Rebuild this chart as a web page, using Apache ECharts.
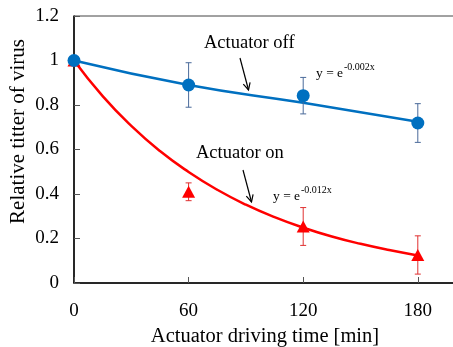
<!DOCTYPE html>
<html><head><meta charset="utf-8">
<script src="https://cdn.jsdelivr.net/npm/echarts@6/dist/echarts.min.js"></script>
<style>html,body{margin:0;padding:0;background:#fff}#c{width:453px;height:347px}</style>
</head><body><div id="c"></div>
<script>
// measured points
const timeX = [0, 60, 120, 180];
const offMean = [1.0, 0.89, 0.842, 0.719];
const offErr  = [0, 0.10, 0.082, 0.087];
const onMean  = [1.0, 0.41, 0.254, 0.126];
const onErr   = [0, 0.04, 0.085, 0.086];
// fitted curves
const offCurveX = [0, 60, 120, 180];
const offCurveY = [1.0, 0.89, 0.81, 0.725];
const onCurveX = [0, 15, 30, 45, 60, 75, 90, 105, 120, 135, 150, 165, 180];
const onCurveY = [1.0, 0.84, 0.706, 0.593, 0.499, 0.419, 0.352, 0.296, 0.249, 0.209, 0.176, 0.148, 0.124];
const yTicks = [0, 0.2, 0.4, 0.6, 0.8, 1, 1.2];
const xTicks = [0, 60, 120, 180];

const BLUE = '#0070C0', RED = '#FF0000';
const FONT = '"Liberation Serif","Times New Roman",serif';

function errRender(color){
  return function(params, api){
    const x = api.value(0), y = api.value(1), e = api.value(2);
    if (!e) return null;
    const t = api.coord([x, y + e]), b = api.coord([x, y - e]);
    const hw = 3, st = {stroke: color, lineWidth: 1};
    return {type: 'group', children: [
      {type: 'line', shape: {x1: t[0], y1: t[1], x2: b[0], y2: b[1]}, style: st},
      {type: 'line', shape: {x1: t[0]-hw, y1: t[1], x2: t[0]+hw, y2: t[1]}, style: st},
      {type: 'line', shape: {x1: b[0]-hw, y1: b[1], x2: b[0]+hw, y2: b[1]}, style: st}
    ]};
  };
}

const chart = echarts.init(document.getElementById('c'), null, {renderer: 'canvas'});
const txt = (x, y, text, size) => ({type: 'text', x: x, y: y, silent: true,
  style: {text: text, font: size + 'px ' + FONT, fill: '#000', textVerticalAlign: 'middle'}});
function arrow(x1, y1, x2, y2){
  const a = Math.atan2(y2 - y1, x2 - x1), L = 7, W = 3.5;
  const bx = x2 - L*Math.cos(a), by = y2 - L*Math.sin(a);
  return [
    {type: 'line', shape: {x1: x1, y1: y1, x2: x2, y2: y2}, style: {stroke: '#000', lineWidth: 1.2}},
    {type: 'polyline', shape: {points: [[bx - W*Math.sin(a), by + W*Math.cos(a)], [x2, y2], [bx + W*Math.sin(a), by - W*Math.cos(a)]]},
     style: {stroke: '#000', lineWidth: 1.2, fill: null}}
  ];
}

chart.setOption({
  animation: false,
  grid: {left: 74, top: 16, bottom: 64, right: -3, show: true, borderColor: '#444', borderWidth: 1,
    containLabel: false, outerBoundsMode: 'none'},
  xAxis: {
    type: 'value', min: 0, max: 200, interval: 60,
    name: 'Actuator driving time [min]', nameLocation: 'middle', nameGap: 41,
    nameTextStyle: {fontFamily: FONT, fontSize: 20.5, color: '#000'},
    axisLine: {lineStyle: {color: '#000', width: 1.5}},
    axisTick: {inside: true, length: 6, lineStyle: {color: '#555'}},
    axisLabel: {fontFamily: FONT, fontSize: 19, color: '#000', margin: 19, showMaxLabel: false,
      formatter: v => xTicks.includes(v) ? String(v) : ''},
    splitLine: {show: false}
  },
  yAxis: {
    type: 'value', min: 0, max: 1.2, interval: 0.2,
    axisLine: {show: true, lineStyle: {color: '#000', width: 1.5}},
    axisTick: {show: true, inside: true, length: 6, lineStyle: {color: '#555'}},
    axisLabel: {fontFamily: FONT, fontSize: 19, color: '#000', margin: 15,
      formatter: v => { const m = yTicks.find(t => Math.abs(t - v) < 1e-9); return m === undefined ? '' : String(m); }},
    splitLine: {show: false}
  },
  series: [
    {type: 'line', data: onCurveX.map((x, i) => [x, onCurveY[i]]), smooth: true, showSymbol: false,
      lineStyle: {color: RED, width: 2.5}, z: 2},
    {type: 'line', data: offCurveX.map((x, i) => [x, offCurveY[i]]), smooth: true, showSymbol: false,
      lineStyle: {color: BLUE, width: 2.5}, z: 2},
    {type: 'custom', renderItem: errRender('#E03030'), data: timeX.map((x, i) => [x, onMean[i], onErr[i]]), z: 3},
    {type: 'custom', renderItem: errRender('#4A6A9A'), data: timeX.map((x, i) => [x, offMean[i], offErr[i]]), z: 3},
    {type: 'scatter', data: timeX.map((x, i) => [x, onMean[i]]), symbol: 'triangle', symbolSize: [13, 12],
      itemStyle: {color: RED, opacity: 1}, z: 4},
    {type: 'scatter', data: timeX.map((x, i) => [x, offMean[i]]), symbol: 'circle', symbolSize: 13,
      itemStyle: {color: BLUE, opacity: 1}, z: 5}
  ],
  graphic: [
    {type: 'text', x: 18, y: 131.5, rotation: Math.PI / 2, silent: true,
      style: {text: 'Relative titter of virus', font: '21px ' + FONT, fill: '#000',
        textAlign: 'center', textVerticalAlign: 'middle'}},
    txt(204, 43, 'Actuator off', 18.5),
    ...arrow(240, 58, 248.5, 90),
    txt(316, 73, 'y = e', 13.5),
    txt(344, 67.5, '-0.002x', 10),
    txt(196, 153.5, 'Actuator on', 18.5),
    ...arrow(243, 170, 251.5, 202),
    txt(273, 196, 'y = e', 13.5),
    txt(301, 190.5, '-0.012x', 10)
  ]
});
</script></body></html>
